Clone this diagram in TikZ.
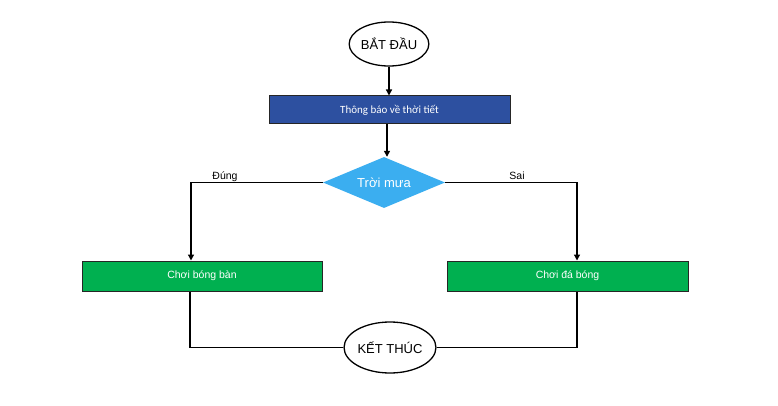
\documentclass[tikz,border=0pt]{standalone}
\usepackage{fontspec}
\setmainfont{Liberation Sans}
\newfontfamily\calib{Carlito}
\usetikzlibrary{shapes.geometric,arrows.meta}
\definecolor{boxblue}{RGB}{45,80,160}
\definecolor{skyblue}{RGB}{59,174,240}
\definecolor{fgreen}{RGB}{0,176,80}
\begin{document}
\begin{tikzpicture}[x=1pt,y=-1pt,
  term/.style={ellipse,draw=black,line width=1.3pt,fill=white,inner sep=0pt,font=\fontsize{13}{15}\selectfont},
  infobox/.style={rectangle,draw=black!85,line width=1pt,fill=boxblue,text=white,inner sep=0pt,minimum width=241pt,minimum height=28pt,font=\calib\fontsize{11}{13}\selectfont},
  decision/.style={diamond,aspect=2.4,fill=skyblue,text=white,inner sep=0pt,minimum width=122pt,minimum height=51pt,font=\fontsize{13}{15}\selectfont},
  actbox/.style={rectangle,draw=black!85,line width=1pt,fill=fgreen,text=white,inner sep=0pt,minimum width=240pt,minimum height=30pt,font=\fontsize{10.5}{12}\selectfont},
  conn/.style={line width=1.3pt,draw=black},
  arr/.style={conn,-{Triangle[length=6pt,width=6pt]}},
  lbl/.style={anchor=base,inner sep=0pt,font=\fontsize{10.5}{12}\selectfont}]
\useasboundingbox[fill=white] (0,0) rectangle (778,406);
\node[term,minimum width=74pt,minimum height=44pt] (start) at (389,44) {BẮT ĐẦU};
\node[infobox] (info) at (389.5,110) {Thông báo về thời tiết};
\node[decision] (dec) at (384,182.5) {Trời mưa};
\node[actbox] (left) at (202,276) {Chơi bóng bàn};
\node[actbox,minimum width=241pt] (right) at (567.5,276) {Chơi đá bóng};
\node[term,minimum width=88pt,minimum height=51pt] (end) at (390,347.5) {KẾT THÚC};
\draw[arr] (start.south) -- (info.north -| start.south);
\draw[arr] (info.south -| 387,0) -- (dec.north -| 387,0);
\draw[arr] (dec.west) -| ([xshift=-11pt]left.north);
\draw[arr] (dec.east) -| ([xshift=9.5pt]right.north);
\draw[conn] ([xshift=-12pt]left.south) |- (end.west);
\draw[conn] ([xshift=9.5pt]right.south) |- (end.east);
\node[lbl] (ldung) at (225,179) {Đúng};
\node[lbl] (lsai) at (517,179) {Sai};
\end{tikzpicture}
\end{document}
